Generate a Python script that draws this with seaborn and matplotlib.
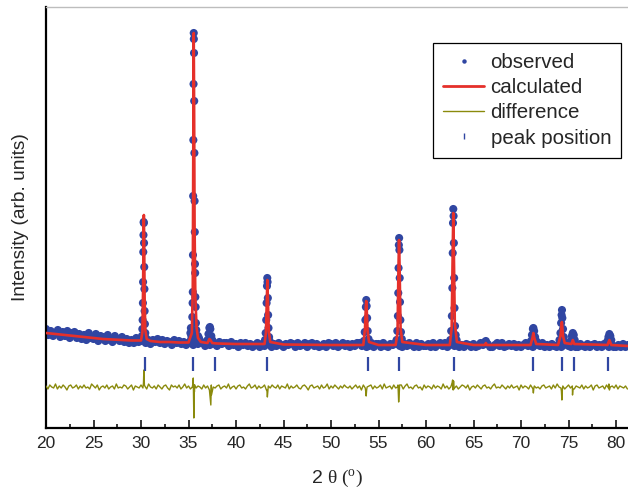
import numpy as np
import pandas as pd
import matplotlib
matplotlib.use("Agg")
import matplotlib.pyplot as plt
import seaborn as sns
from matplotlib.lines import Line2D

# ---------------- data ----------------
# observed background points: start 20.0 deg, step 0.25 deg
obs_bg_start = 20.0
obs_bg_step = 0.25
obs_bg_y = [
    99, 93, 97, 92, 95, 98, 91, 96, 92, 97, 90, 95, 96, 90, 94, 89,
    93, 88, 95, 90, 89, 94, 87, 92, 91, 87, 93, 88, 86, 92, 89, 87,
    91, 86, 89, 85, 88, 85, 90, 86, 87, 89, 85, 88, 84, 88, 86, 89,
    85, 88, 84, 87, 86, 83, 88, 85, 87, 84, 86, 83, 85, 88, 83, 86,
    84, 87, 85, 82, 86, 83, 87, 84, 82, 86, 84, 85, 85, 82, 86, 83,
    84, 81, 85, 83, 85, 82, 84, 81, 83, 85, 81, 84, 82, 84, 85, 81,
    84, 82, 85, 83, 81, 84, 83, 85, 84, 81, 85, 82, 83, 85, 81, 84,
    85, 82, 84, 81, 82, 84, 81, 85, 84, 82, 85, 81, 83, 85, 82, 84,
    81, 84, 82, 85, 85, 82, 84, 81, 82, 85, 81, 84, 84, 81, 85, 82,
    81, 84, 83, 85, 84, 82, 81, 84, 82, 85, 83, 81, 85, 81, 84, 82,
    82, 84, 81, 85, 81, 83, 85, 82, 85, 81, 83, 84, 82, 85, 81, 83,
    81, 84, 83, 81, 84, 81, 82, 85, 83, 85, 84, 81, 81, 83, 85, 82,
    85, 81, 82, 84, 82, 84, 81, 83, 81, 83, 85, 82, 84, 81, 83, 85,
    82, 85, 81, 83, 81, 84, 82, 81, 84, 81, 83, 85, 82, 81, 84, 81,
    81, 84, 82, 81, 84, 81, 83, 84, 81, 83, 81, 84, 83, 81, 84, 81,
    81, 83, 81, 84, 81, 83,
]

# observed points on the Bragg peaks
obs_peak_x = [
    30.10, 30.14, 30.17, 30.20, 30.22, 30.24, 30.26, 30.28, 30.30, 30.32,
    30.34, 30.36, 30.38, 30.41, 30.45, 30.50,
    35.20, 35.25, 35.30, 35.36, 35.40, 35.43, 35.45, 35.47, 35.49, 35.51,
    35.53, 35.55, 35.56, 35.58, 35.60, 35.62, 35.64, 35.66, 35.68, 35.70,
    35.72, 35.75, 35.78, 35.82, 35.88, 35.95, 36.00, 36.10,
    37.00, 37.10, 37.20, 37.25, 37.30, 37.40, 37.50,
    43.05, 43.12, 43.18, 43.22, 43.26, 43.29, 43.32, 43.35, 43.38, 43.42,
    43.48, 43.55,
    53.45, 53.55, 53.62, 53.67, 53.71, 53.75, 53.80, 53.86, 53.95,
    56.90, 56.98, 57.04, 57.08, 57.11, 57.14, 57.17, 57.20, 57.23, 57.26,
    57.30, 57.36, 57.45,
    62.55, 62.65, 62.72, 62.77, 62.81, 62.84, 62.87, 62.90, 62.93, 62.96,
    63.00, 63.05, 63.12, 63.22,
    66.20, 66.30,
    71.05, 71.15, 71.25, 71.30, 71.38, 71.48, 71.60,
    74.05, 74.15, 74.22, 74.27, 74.31, 74.35, 74.42, 74.50,
    75.25, 75.35, 75.45, 75.55, 75.65,
    79.10, 79.20, 79.30, 79.40, 79.50,
]
obs_peak_y = [
    92, 99, 108, 125, 146, 176, 193, 206, 205, 185,
    161, 139, 117, 104, 95, 90,
    95, 100, 92, 98, 111, 125, 136, 173, 232, 288,
    344, 395, 389, 375, 327, 275, 227, 196, 164, 155,
    131, 121, 105, 98, 92, 89, 92, 90,
    88, 94, 100, 101, 99, 92, 88,
    88, 95, 108, 125, 142, 150, 146, 130, 113, 100,
    91, 87,
    87, 96, 108, 121, 128, 122, 110, 97, 89,
    88, 97, 112, 135, 160, 183, 190, 178, 150, 126,
    108, 96, 89,
    88, 97, 112, 140, 175, 205, 219, 212, 185, 150,
    120, 102, 93, 88,
    86, 87,
    87, 93, 99, 100, 97, 91, 87,
    88, 95, 105, 113, 118, 110, 99, 91,
    87, 92, 95, 93, 88,
    87, 91, 94, 92, 88,
]

# calculated profile
calc_x = [
    20.0, 21.0, 22.0, 23.0, 24.0, 25.0, 26.0, 27.0, 28.0, 29.0,
    30.0, 30.15, 30.22, 30.27, 30.30, 30.33, 30.38, 30.45, 30.60,
    31.0, 32.0, 33.0, 34.0, 35.0, 35.35, 35.45, 35.51, 35.55, 35.59,
    35.64, 35.72, 35.85, 36.0, 36.3,
    37.0, 37.2, 37.3, 37.5, 38.0, 40.0,
    43.0, 43.15, 43.25, 43.30, 43.35, 43.45, 43.60,
    45.0, 50.0, 53.4, 53.58, 53.67, 53.71, 53.76, 53.85, 54.0,
    55.0, 56.8, 57.0, 57.10, 57.16, 57.22, 57.32, 57.5,
    60.0, 62.5, 62.7, 62.8, 62.87, 62.93, 63.03, 63.25,
    65.0, 66.2, 66.3, 66.4,
    71.0, 71.2, 71.3, 71.4, 71.6,
    73.9, 74.15, 74.3, 74.42, 74.6, 75.3, 75.45, 75.6,
    79.1, 79.3, 79.5, 81.26,
]
calc_y = [
    95, 94, 93, 92, 91, 90, 89, 88.5, 88, 87.5,
    87.5, 96, 140, 200, 213, 190, 130, 98, 89,
    87, 86, 86, 85.5, 85.5, 95, 140, 300, 395, 320,
    200, 130, 100, 90, 86,
    85, 89, 88, 85, 84.5, 84,
    84, 95, 130, 148, 130, 97, 86,
    83.5, 83, 83, 100, 122, 127, 118, 97, 86,
    83, 83, 95, 160, 188, 160, 100, 86,
    83, 83, 100, 170, 215, 175, 105, 86,
    83, 83, 85, 83,
    83, 90, 95, 90, 84,
    83, 92, 106, 92, 85, 84, 88, 84,
    83, 88, 83, 82,
]

# difference curve: noise on a 0.2 deg grid plus peak misfits
diff_start = 20.0
diff_step = 0.2
diff_noise = [
    1, -2, 2, 0, -1, 3, -2, 1, -1, 2, 0, -3, 1, 2, -1, 0, 2, -2, 1, -1,
    2, -1, 0, -2, 3, 1, -1, 2, -3, 0, 1, -1, 2, -2, 0, 1, -2, 3, -1, 0,
    -1, 2, 1, -2, 0, 2, -3, 1, 0, -1, 2, -1, 1, -2, 3, 0, -1, 1, -2, 2,
    0, -2, 1, 2, -1, -3, 2, 0, 1, -1, 2, -2, 0, 3, -1, 1, -2, 0, 2, -1,
    1, 0, -2, 2, -1, 1, -3, 2, 0, -1, 1, 2, -2, 0, 1, -1, 3, -2, 0, 1,
    -2, 1, 2, -1, 0, -2, 1, 3, -1, 0, 2, -2, 1, -1, 0, 2, -3, 1, -1, 2,
    0, -1, 2, -2, 1, 0, -1, 3, -2, 1, -1, 0, 2, -1, -2, 1, 2, 0, -3, 1,
    2, -1, 0, 1, -2, 2, -1, 0, 3, -2, 1, -1, 2, 0, -2, 1, -1, 2, 0, -1,
    1, -2, 0, 2, -1, 1, -3, 2, -1, 0, 1, 2, -2, 1, -1, 0, 2, -2, 3, -1,
    0, 1, -2, 2, -1, 0, -1, 2, -2, 1, 3, -1, 0, -2, 1, 2, -1, 0, -3, 2,
    -1, 1, 0, -2, 2, -1, 1, 0, -2, 3, -1, 1, -2, 0, 2, -1, 1, -2, 0, 2,
    1, -1, 2, -3, 0, 1, -1, 2, 0, -2, 1, 2, -1, 0, -2, 1, 3, -1, 0, -1,
    2, 0, -2, 1, -1, 2, -1, 0, 1, -3, 2, -1, 1, 0, -2, 2, -1, 1, -1, 0,
    -2, 1, 2, -1, 0, 1, -2, 2, -1, 3, 0, -1, 1, -2, 0, 2, -1, 1, -2, 1,
    0, -1, 2, -2, 1, -1, 0, 2, -3, 1, 2, -1, 0, 1, -2, 2, -1, 0, 1, -1,
    2, -2, 1, 0, -1, 1, -2,
]
diff_peak_x = [
    30.26, 30.30, 30.33, 30.36,
    35.46, 35.50, 35.53, 35.56, 35.59, 35.62, 35.66,
    37.22, 37.30, 37.35, 37.42,
    43.25, 43.30, 43.35,
    53.65, 53.70, 53.75,
    57.05, 57.12, 57.18, 57.22,
    62.75, 62.80, 62.86, 62.90, 62.95,
    71.25, 71.30, 71.35,
    74.25, 74.30, 74.35,
    75.42, 75.47,
    79.25, 79.30,
]
diff_peak_y = [
    4, 17, 8, 2,
    3, 9, -12, -31, -20, -5, 2,
    -5, -14, -18, -8,
    -3, -10, -4,
    -4, -9, -3,
    2, -15, -7, 2,
    4, 7, -3, 6, -2,
    -2, -6, -1,
    -4, -13, -3,
    -8, -2,
    3, -3,
]

# Bragg peak positions
peak_positions = [30.45, 35.45, 37.75, 43.25, 53.85, 57.15, 62.95,
                  71.25, 74.35, 75.6, 79.15]

tick_values = [20, 25, 30, 35, 40, 45, 50, 55, 60, 65, 70, 75, 80]

# ---------------- tables ----------------
obs_bg = pd.DataFrame({
    "x": obs_bg_start + obs_bg_step * np.arange(len(obs_bg_y)),
    "y": obs_bg_y,
})
obs_pk = pd.DataFrame({"x": obs_peak_x, "y": obs_peak_y})
obs = pd.concat([obs_bg, obs_pk], ignore_index=True)
calc = pd.DataFrame({"x": calc_x, "y": calc_y})
diff = pd.concat([
    pd.DataFrame({"x": diff_start + diff_step * np.arange(len(diff_noise)),
                  "y": diff_noise}),
    pd.DataFrame({"x": diff_peak_x, "y": diff_peak_y}),
], ignore_index=True).sort_values("x").reset_index(drop=True)

DIFF_OFFSET = 41
TICK_LEVEL = 64
diff["y_plot"] = diff["y"] + DIFF_OFFSET
pk = pd.DataFrame({"x": peak_positions, "y": [TICK_LEVEL] * len(peak_positions)})

# ---------------- style ----------------
sns.set_style("ticks")
plt.rcParams["font.family"] = ["Liberation Sans", "DejaVu Sans"]
plt.rcParams["mathtext.fontset"] = "custom"
plt.rcParams["mathtext.rm"] = "Liberation Serif"
plt.rcParams["mathtext.it"] = "Liberation Serif:italic"

BLUE = "#3046a2"
RED = "#e5302a"
OLIVE = "#8a8a0c"

fig = plt.figure(figsize=(6.28, 4.93), dpi=100)
ax = fig.add_axes([46 / 628, 65 / 493, 582 / 628, 421 / 493])

sns.scatterplot(data=obs, x="x", y="y", ax=ax, color=BLUE, s=34,
                edgecolor="none", linewidth=0, zorder=2, legend=False)
sns.lineplot(data=calc, x="x", y="y", ax=ax, color=RED, lw=1.9,
             estimator=None, errorbar=None, sort=False, zorder=3)
sns.lineplot(data=diff, x="x", y="y_plot", ax=ax, color=OLIVE, lw=1.0,
             estimator=None, errorbar=None, sort=False, zorder=3)
sns.scatterplot(data=pk, x="x", y="y", ax=ax, marker="|", s=110,
                color=BLUE, linewidth=1.6, zorder=3, legend=False)

ax.set_xlim(20, 81.26)
ax.set_ylim(0, 421)
ax.set_xticks(tick_values)
ax.set_xticks(np.array(tick_values[:-1]) + 2.5, minor=True)
ax.set_xticklabels([str(t) for t in tick_values])
ax.set_yticks([])

ax.tick_params(axis="x", which="major", direction="in", length=6,
               width=1.1, labelsize=12.5, pad=6, color="black")
ax.tick_params(axis="x", which="minor", direction="in", length=3,
               width=1.1, color="black")

for s in ["left", "bottom"]:
    ax.spines[s].set_linewidth(1.6)
    ax.spines[s].set_color("black")
ax.spines["top"].set_color("#bdbdbd")
ax.spines["top"].set_linewidth(1.0)
ax.spines["right"].set_visible(False)

ax.set_xlabel(r"2 $\mathrm{θ}\ \mathrm{(}^{\mathrm{o}}\mathrm{)}$",
              fontsize=14, labelpad=12)
ax.set_ylabel("Intensity (arb. units)", fontsize=13.8, labelpad=12)

handles = [
    Line2D([], [], marker="o", ls="none", color=BLUE, markersize=3.2,
           markeredgewidth=0),
    Line2D([], [], color=RED, lw=2),
    Line2D([], [], color=OLIVE, lw=1),
    Line2D([], [], marker="|", ls="none", color=BLUE, markersize=5,
           markeredgewidth=1.0),
]
labels = ["observed", "calculated", "difference", "peak position"]
leg = ax.legend(handles, labels, loc="upper left",
                bbox_to_anchor=(0.665, 0.915), frameon=True, fancybox=False,
                edgecolor="black", framealpha=1, fontsize=14.8,
                handlelength=2.0, handletextpad=0.3, labelspacing=0.3,
                borderpad=0.5, borderaxespad=0)
leg.get_frame().set_linewidth(0.9)

fig.savefig("out.png", dpi=100, facecolor="white")
